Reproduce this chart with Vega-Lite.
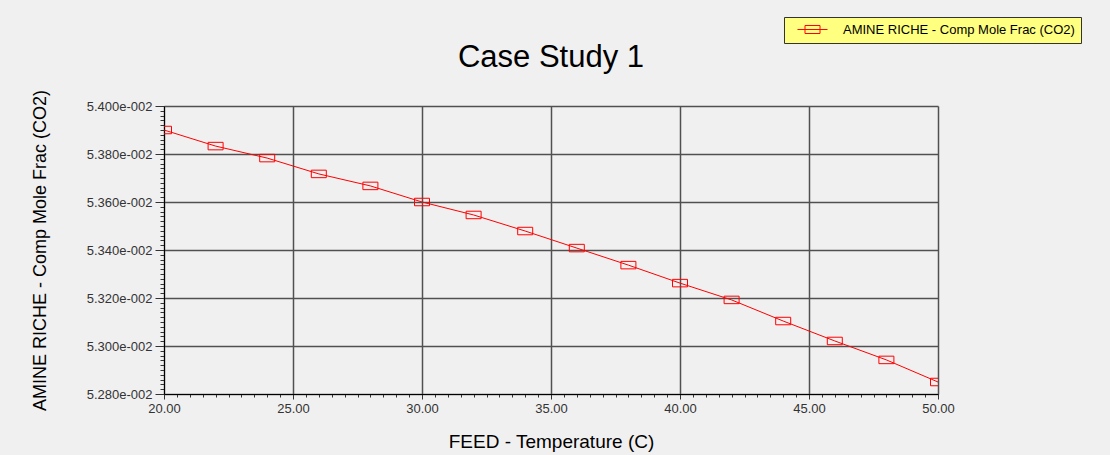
{
  "$schema": "https://vega.github.io/schema/vega-lite/v6.json",
  "width": 774,
  "height": 288,
  "autosize": {"type": "none"},
  "padding": {"left": 164, "top": 106, "right": 172, "bottom": 61},
  "background": "#f0f0f0",
  "config": {
    "font": "Liberation Sans",
    "view": {"stroke": null},
    "axis": {
      "labelFont": "Liberation Sans",
      "labelFontSize": 13,
      "labelColor": "#333333",
      "titleFont": "Liberation Sans",
      "titleFontWeight": "normal",
      "titleColor": "#000000",
      "domainColor": "#000000",
      "domainWidth": 1,
      "tickColor": "#333333",
      "gridColor": "#505050",
      "gridWidth": 1.5,
      "labelOverlap": false,
      "labelFlush": false,
      "labelBound": false
    }
  },
  "title": {
    "text": "Case Study 1",
    "fontSize": 31,
    "fontWeight": "normal",
    "font": "Liberation Sans",
    "color": "#000000",
    "anchor": "middle",
    "baseline": "alphabetic",
    "offset": -81
  },
  "data": {
    "values": [
      {"temp": 20, "co2": 0.05390, "series": "AMINE RICHE - Comp Mole Frac (CO2)"},
      {"temp": 22, "co2": 0.053833, "series": "AMINE RICHE - Comp Mole Frac (CO2)"},
      {"temp": 24, "co2": 0.053783, "series": "AMINE RICHE - Comp Mole Frac (CO2)"},
      {"temp": 26, "co2": 0.053717, "series": "AMINE RICHE - Comp Mole Frac (CO2)"},
      {"temp": 28, "co2": 0.053667, "series": "AMINE RICHE - Comp Mole Frac (CO2)"},
      {"temp": 30, "co2": 0.05360, "series": "AMINE RICHE - Comp Mole Frac (CO2)"},
      {"temp": 32, "co2": 0.053546, "series": "AMINE RICHE - Comp Mole Frac (CO2)"},
      {"temp": 34, "co2": 0.053479, "series": "AMINE RICHE - Comp Mole Frac (CO2)"},
      {"temp": 36, "co2": 0.053408, "series": "AMINE RICHE - Comp Mole Frac (CO2)"},
      {"temp": 38, "co2": 0.053337, "series": "AMINE RICHE - Comp Mole Frac (CO2)"},
      {"temp": 40, "co2": 0.053262, "series": "AMINE RICHE - Comp Mole Frac (CO2)"},
      {"temp": 42, "co2": 0.053192, "series": "AMINE RICHE - Comp Mole Frac (CO2)"},
      {"temp": 44, "co2": 0.053104, "series": "AMINE RICHE - Comp Mole Frac (CO2)"},
      {"temp": 46, "co2": 0.053021, "series": "AMINE RICHE - Comp Mole Frac (CO2)"},
      {"temp": 48, "co2": 0.052942, "series": "AMINE RICHE - Comp Mole Frac (CO2)"},
      {"temp": 50, "co2": 0.052850, "series": "AMINE RICHE - Comp Mole Frac (CO2)"}
    ]
  },
  "encoding": {
    "x": {
      "field": "temp",
      "type": "quantitative",
      "scale": {"domain": [20, 50], "nice": false, "zero": false},
      "axis": {
        "title": "FEED - Temperature (C)",
        "titleFontSize": 19,
        "titlePadding": 17,
        "values": [20,20.5,21,21.5,22,22.5,23,23.5,24,24.5,25,25.5,26,26.5,27,27.5,28,28.5,29,29.5,30,30.5,31,31.5,32,32.5,33,33.5,34,34.5,35,35.5,36,36.5,37,37.5,38,38.5,39,39.5,40,40.5,41,41.5,42,42.5,43,43.5,44,44.5,45,45.5,46,46.5,47,47.5,48,48.5,49,49.5,50],
        "labelExpr": "abs(datum.value/5 - round(datum.value/5)) < 0.001 ? format(datum.value, '.2f') : ''",
        "tickSize": {"condition": {"test": "abs(datum.value/5 - round(datum.value/5)) < 0.001", "value": 5}, "value": 3},
        "gridOpacity": {"condition": {"test": "abs(datum.value/5 - round(datum.value/5)) < 0.001", "value": 1}, "value": 0},
        "labelPadding": 3
      }
    },
    "y": {
      "field": "co2",
      "type": "quantitative",
      "scale": {"domain": [0.0528, 0.054], "nice": false, "zero": false},
      "axis": {
        "title": "AMINE RICHE - Comp Mole Frac (CO2)",
        "titleFontSize": 18,
        "titlePadding": 37,
        "values": [0.0528,0.05282,0.05284,0.05286,0.05288,0.0529,0.05292,0.05294,0.05296,0.05298,0.053,0.05302,0.05304,0.05306,0.05308,0.0531,0.05312,0.05314,0.05316,0.05318,0.0532,0.05322,0.05324,0.05326,0.05328,0.0533,0.05332,0.05334,0.05336,0.05338,0.0534,0.05342,0.05344,0.05346,0.05348,0.0535,0.05352,0.05354,0.05356,0.05358,0.0536,0.05362,0.05364,0.05366,0.05368,0.0537,0.05372,0.05374,0.05376,0.05378,0.0538,0.05382,0.05384,0.05386,0.05388,0.0539,0.05392,0.05394,0.05396,0.05398,0.054],
        "labelExpr": "abs(datum.value*5000 - round(datum.value*5000)) < 0.001 ? format(datum.value*100, '.3f') + 'e-002' : ''",
        "tickSize": {"condition": {"test": "abs(datum.value*5000 - round(datum.value*5000)) < 0.001", "value": 9}, "value": 4},
        "gridOpacity": {"condition": {"test": "abs(datum.value*5000 - round(datum.value*5000)) < 0.001", "value": 1}, "value": 0},
        "labelPadding": 3
      }
    }
  },
  "layer": [
    {
      "mark": {"type": "line", "color": "#ff0000", "strokeWidth": 1, "clip": true}
    },
    {
      "mark": {
        "type": "point",
        "shape": "M-1,-0.5L1,-0.5L1,0.5L-1,0.5Z",
        "size": 225,
        "filled": false,
        "strokeWidth": 1,
        "opacity": 1,
        "clip": true
      },
      "encoding": {
        "color": {
          "field": "series",
          "type": "nominal",
          "scale": {"range": ["#ff0000"]},
          "legend": {
            "title": null,
            "orient": "none",
            "legendX": 620,
            "legendY": -89,
            "fillColor": "#ffff80",
            "strokeColor": "#333333",
            "padding": 6,
            "symbolType": "M-2.5,0L2.5,0M-1.25,-0.667L1.25,-0.667L1.25,0.667L-1.25,0.667Z",
            "symbolSize": 144,
            "symbolStrokeColor": "#ff0000",
            "symbolFillColor": "transparent",
            "symbolStrokeWidth": 1,
            "symbolOffset": 16,
            "labelOffset": 24,
            "labelFontSize": 13,
            "labelColor": "#000000",
            "labelLimit": 400
          }
        }
      }
    }
  ]
}
